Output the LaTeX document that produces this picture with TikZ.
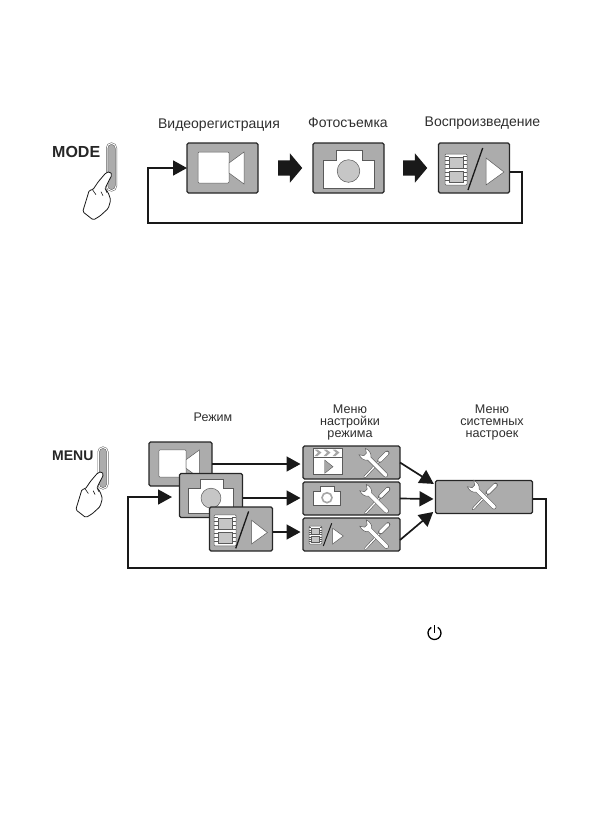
\documentclass[tikz,border=0pt]{standalone}
\usepackage{fontspec}
\setmainfont{Liberation Sans}
\usetikzlibrary{arrows.meta,shapes.arrows}
\definecolor{panelGray}{HTML}{ACACAC}
\definecolor{iconGray}{HTML}{C6C6C6}
\definecolor{lineGray}{HTML}{5A5A5A}
\definecolor{textGray}{HTML}{2E2E2E}
\tikzset{
  panel/.style={draw=black!85, line width=1.1pt, fill=panelGray, rounded corners=1.5pt,
    inner sep=0pt, outer sep=0pt},
  bigpanel/.style={panel, minimum width=71pt, minimum height=50pt},
  midpanel/.style={panel, minimum width=63pt, minimum height=44pt},
  setpanel/.style={panel, minimum width=97pt, minimum height=33pt},
  caption/.style={font=\fontsize{14}{14}\selectfont, text=textGray, align=center, inner sep=0pt},
  smallcap/.style={caption, font=\fontsize{12.6}{12}\selectfont},
  keyname/.style={font=\bfseries\fontsize{16}{16}\selectfont, text=black!85, inner sep=0pt},
  keybtn/.style={draw=lineGray, line width=.5pt, double=white, double distance=1pt,
    fill=gray!65, rounded corners=4.5pt, minimum width=9pt, inner sep=0pt},
  link/.style={draw=black!90, line width=1.7pt, -{Triangle[length=14pt,width=15pt]}},
  flow/.style={single arrow, fill=black!90, minimum height=24pt, text height=15pt, text depth=0pt,
    text width=0pt, single arrow head extend=7pt, single arrow tip angle=100, inner sep=0pt},
  whiteshape/.style={draw=lineGray, line width=.5pt, fill=white},
  video icon/.pic={
    \draw[whiteshape, rounded corners=1pt] (-24.5,-16) rectangle (6.5,15);
    \draw[whiteshape] (6.5,-5) -- (21.5,-16) -- (21.5,16) -- (6.5,5) -- cycle;
  },
  photo icon/.pic={
    \draw[whiteshape] (-25.5,-8) -- (-12.5,-8) -- (-12.5,-18) -- (13.5,-18) -- (13.5,-8)
      -- (25.5,-8) -- (25.5,20) -- (-25.5,20) -- cycle;
    \draw[draw=lineGray, line width=.5pt, fill=iconGray] (0,3) circle[radius=11.3];
  },
  film icon/.pic={
    \draw[whiteshape, rounded corners=1pt] (-11,-15.5) rectangle (11,15.5);
    \foreach \y in {-13,-9,...,13} {
      \draw[lineGray, line width=.5pt] (-11,\y) -- (-7,\y) (7,\y) -- (11,\y);
    }
    \draw[draw=lineGray, line width=.5pt, fill=iconGray] (-7,-12) rectangle (7,-1);
    \draw[draw=lineGray, line width=.5pt, fill=iconGray] (-7,2) rectangle (7,13);
  },
  play icon/.pic={
    \pic at (-18,1.5) {film icon};
    \draw[black!90, line width=1.3pt] (8.7,-20) -- (-6,22);
    \draw[whiteshape] (12,-10) -- (30,4) -- (12,17) -- cycle;
  },
  clapper icon/.pic={
    \draw[whiteshape] (-38.5,-14.5) rectangle (-9.5,11.5);
    \draw[lineGray, line width=.5pt] (-38.5,-5) -- (-9.5,-5);
    \foreach \x in {-37,-28,-19} {
      \draw[draw=none, fill=gray!70] (\x,-13) -- (\x+3,-13) -- (\x+7,-10) -- (\x+3,-6.5) -- (\x,-6.5) -- (\x+3.5,-10) -- cycle;
    }
    \draw[draw=lineGray, line width=.4pt, fill=gray!70] (-26.8,-2.5) -- (-18.5,4.2) -- (-26.8,10.8) -- cycle;
  },
  snap icon/.pic={
    \draw[whiteshape] (-38.5,-6.8) -- (-31.2,-6.8) -- (-31.2,-11.8) -- (-16.8,-11.8) -- (-16.8,-6.8)
      -- (-10.8,-6.8) -- (-10.8,6.5) -- (-38.5,6.5) -- cycle;
    \draw[draw=gray!70, line width=1.6pt, fill=white] (-24.5,-.8) circle[radius=5];
  },
  tool icon/.pic={
    \draw[draw=lineGray, line width=2.4pt, line cap=round] (3,-3) -- (-11,12);
    \draw[draw=white, line width=1.3pt, line cap=round] (3,-3) -- (-11,12);
    \draw[draw=lineGray, line width=4.6pt, line cap=round] (4,-4.5) -- (11.5,-12);
    \draw[draw=white, line width=3.5pt, line cap=round] (4,-4.5) -- (11.5,-12);
    \begin{scope}[rotate=-45]
      \draw[whiteshape] (-9,-2.2) .. controls (-11,-5) and (-15,-6) .. (-19,-4.5) -- (-15,-1.8)
        -- (-15,1.8) -- (-19,4.5) .. controls (-15,6) and (-11,5) .. (-9,2.2) -- (14,2.2)
        .. controls (17,2.2) and (17,-2.2) .. (14,-2.2) -- cycle;
    \end{scope}
  },
  hand icon/.pic={
    \draw[draw=black!90, line width=.8pt, fill=white, rounded corners=1.5pt]
      (0,0) -- (-4,1) -- (-11.7,10) -- (-17.3,18.3) -- (-20.7,18.3) -- (-22.7,25) -- (-27.3,40)
      -- (-16.7,48.3) -- (-10,44.3) -- (-1.7,36.7) -- (.7,28.3) -- (-1.7,21) -- (-5,16.7)
      -- (2,3) -- cycle;
    \draw[black!90, line width=.6pt] (-17.3,18.3) -- (-14,23) (-9,20) -- (-7,24) (-5,16.7) -- (-3,21);
  }
}

\begin{document}
\begin{tikzpicture}[x=1pt,y=-1pt]
  \useasboundingbox (0,0) rectangle (595,839);

  % mode row
  \node[caption] (capVideo) at (219,125) {Видеорегистрация};
  \node[caption] (capPhoto) at (348,123) {Фотосъемка};
  \node[caption] (capPlay) at (482.5,123) {Воспроизведение};
  \node[keyname, anchor=west] (modeName) at (52,152) {MODE};
  \node[keybtn, minimum height=47pt] (modeBtn) at (111.5,167) {};
  \pic at (110,171.7) {hand icon};
  \node[bigpanel] (modeA) at (222.5,168) {};
  \node[bigpanel] (modeB) at (348.5,168) {};
  \node[bigpanel] (modeC) at (474,168) {};
  \pic at (modeA) {video icon};
  \pic at (modeB) {photo icon};
  \pic at (modeC) {play icon};
  \node[flow] (flowA) at (287,168) {};
  \node[flow] (flowB) at (412,168) {};
  \coordinate (modeTurnR) at (522,223);
  \coordinate (modeTurnL) at (148,223);
  \draw[link] ([yshift=-4pt]modeC.east) -| (modeTurnR) -- (modeTurnL) |- (modeA.west);

  % menu row
  \node[caption, font=\fontsize{12.5}{12}\selectfont] (capMode) at (213,417) {Режим};
  \node[smallcap] (capSet) at (350,422) {Меню\\настройки\\режима};
  \node[smallcap] (capSys) at (492,422) {Меню\\системных\\настроек};
  \node[keyname, anchor=west, font=\bfseries\fontsize{14}{14}\selectfont] (menuName) at (52,456) {MENU};
  \node[keybtn, minimum height=41pt] (menuBtn) at (103,468) {};
  \pic[scale=.95] at (101.7,471.7) {hand icon};
  \node[midpanel] (menuA) at (180.5,464) {};
  \pic[scale=.88] at (menuA) {video icon};
  \node[midpanel] (menuB) at (211,495.5) {};
  \pic[scale=.88] at (menuB) {photo icon};
  \node[midpanel] (menuC) at (241,529) {};
  \pic[scale=.88] at (menuC) {play icon};
  \node[setpanel] (setA) at (351.5,462.5) {};
  \node[setpanel] (setB) at (351.5,498.5) {};
  \node[setpanel] (setC) at (351.5,534.5) {};
  \node[setpanel] (setD) at (484,497) {};
  \pic at (setA) {clapper icon};
  \pic at (setB) {snap icon};
  \pic[scale=.58] at ([xshift=-36pt,yshift=-.7pt]setC) {film icon};
  \draw[black!90, line width=1pt] ([xshift=-19.8pt,yshift=11.2pt]setC.center) -- ([xshift=-28.2pt,yshift=-11.5pt]setC.center);
  \draw[whiteshape] ([xshift=-18.8pt,yshift=6.2pt]setC.center) -- ([xshift=-8.2pt,yshift=-1.5pt]setC.center) -- ([xshift=-18.8pt,yshift=-9.5pt]setC.center) -- cycle;
  \pic at ([xshift=24.2pt,yshift=-2.5pt]setA.center) {tool icon};
  \pic at ([xshift=25pt,yshift=-2.5pt]setB.center) {tool icon};
  \pic at ([xshift=25pt,yshift=-2pt]setC.center) {tool icon};
  \pic at (setD) {tool icon};
  \draw[link, shorten >=2.5pt] (menuA.east) -- (setA.west |- menuA.east);
  \draw[link, shorten >=2.5pt] ([yshift=-2.5pt]menuB.east) -- ([yshift=-2.5pt]menuB.east -| setB.west);
  \draw[link, shorten >=2.5pt] ([yshift=-3pt]menuC.east) -- ([yshift=-3pt]menuC.east -| setC.west);
  \draw[link, shorten >=2pt] (setA.east) -- ([yshift=12pt]setD.west);
  \draw[link, shorten >=2pt] (setB.east) -- ([yshift=-2pt]setD.west);
  \draw[link, shorten >=3pt] ([yshift=-5.5pt]setC.east) -- ([yshift=-13pt]setD.west);
  \coordinate (menuTurnR) at (546,568);
  \coordinate (menuTurnL) at (128,568);
  \coordinate (menuEnd) at (172,497);
  \draw[link] ([yshift=-2pt]setD.east) -| (menuTurnR) -- (menuTurnL) |- (menuEnd);

  % power glyph
  \coordinate (powerMid) at (434.5,633);
  \draw[black, line width=1.3pt] (powerMid) ++(300:6.5) arc[start angle=300,end angle=600,radius=6.5];
  \draw[black, line width=1.3pt] (434.5,625) -- (powerMid);
\end{tikzpicture}
\end{document}
